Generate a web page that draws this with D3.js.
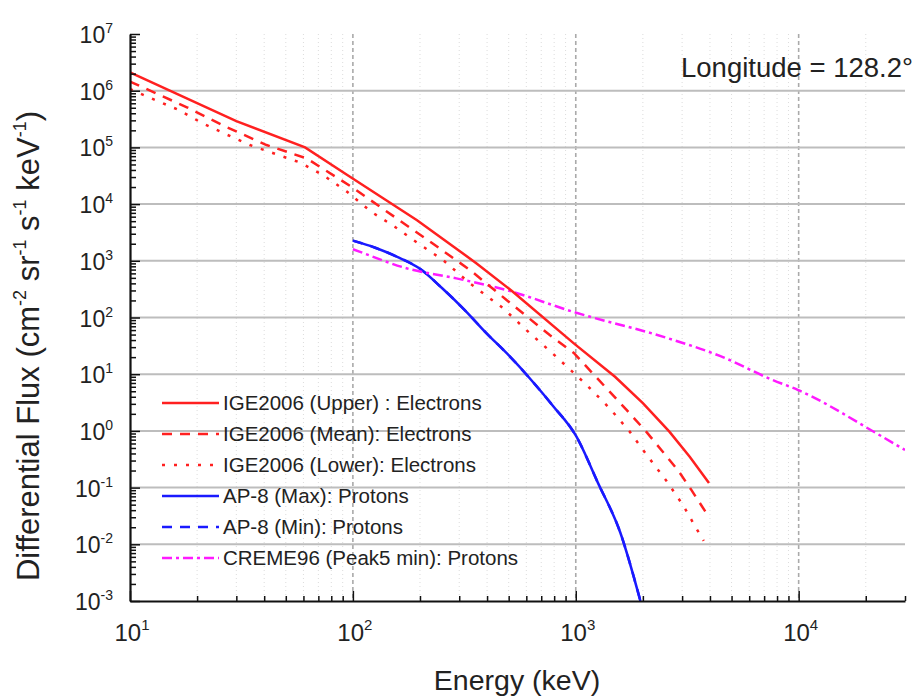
<!DOCTYPE html>
<html><head><meta charset="utf-8">
<script src="https://cdn.jsdelivr.net/npm/d3@7"></script>
<style>
body{margin:0;background:#fff}
text{font-family:Arial,"Liberation Sans",sans-serif;fill:#222}
</style>
</head><body>
<svg id="c" width="919" height="697"></svg>
<script>
// ---- data ----
const upperE = [10, 30, 61, 94, 194, 359, 522, 980, 1500, 2005, 2630, 3245, 3960];
const upperF = [2.1e6, 2.9e5, 1.0e5, 3.3e4, 5.2e3, 900, 285, 35, 9, 3.07, 0.97, 0.35, 0.12];

const meanE = [10, 18, 27, 41, 62, 97, 221, 335, 489, 764, 980, 1690, 2070, 2420, 2880, 3300, 3900];
const meanF = [1.45e6, 5.1e5, 2.3e5, 1.1e5, 6.4e4, 2.1e4, 2.2e3, 690, 204, 49, 23.7, 2.34, 0.97, 0.46, 0.2, 0.091, 0.033];

const lowerE = [10, 12.7, 16.5, 21, 27, 34.5, 44, 58, 74, 94, 121, 154, 196, 254, 335, 471, 600, 790, 980, 1117, 1420, 1746, 2110, 2535, 3030, 3475, 3750];
const lowerF = [1.07e6, 7.1e5, 4.6e5, 2.7e5, 1.7e5, 1.1e5, 7.9e4, 5.4e4, 3.2e4, 1.66e4, 7.3e3, 4.0e3, 2.04e3, 1.03e3, 400, 147, 60, 23, 10.5, 6.5, 2.5, 0.97, 0.35, 0.136, 0.049, 0.019, 0.0115];

const apMaxE = [100, 126, 158, 200, 251, 316, 398, 501, 631, 794, 1000, 1259, 1585, 1950];
const apMaxF = [2265, 1700, 1175, 724, 331, 138, 52.5, 21.4, 7.9, 2.7, 0.83, 0.12, 0.016, 0.001];

// AP-8 (Min) is hidden under AP-8 (Max) in the reference
const apMinE = [100, 126, 158, 200, 251, 316, 398, 501, 631, 794, 1000, 1259, 1585, 1950];
const apMinF = [2265, 1700, 1175, 724, 331, 138, 52.5, 21.4, 7.9, 2.7, 0.83, 0.12, 0.016, 0.001];

const cremeE = [100, 107, 174, 291, 489, 973, 2595, 4430, 7650, 9900, 22300, 30000];
const cremeF = [1600, 1450, 738, 490, 305, 126, 43, 21, 7.9, 5.3, 0.91, 0.46];

const seriesNames = ["IGE2006 (Upper) : Electrons", "IGE2006 (Mean): Electrons", "IGE2006 (Lower): Electrons",
                     "AP-8 (Max): Protons", "AP-8 (Min): Protons", "CREME96 (Peak5 min): Protons"];

const xMajorTicks = [10, 100, 1000, 10000];
const yMajorTicks = [1e-3, 1e-2, 1e-1, 1e0, 1e1, 1e2, 1e3, 1e4, 1e5, 1e6, 1e7];

// ---- chart ----
const svg = d3.select("#c");
const L = 130, R = 905, T = 34, B = 601;
const x = d3.scaleLog().domain([10, 30000]).range([L, R]);
const y = d3.scaleLog().domain([1e-3, 1e7]).range([B, T]);

const xMinor = [];
[10, 100, 1000, 10000].forEach(d => { for (let m = 2; m <= 9; m++) if (d * m <= 30000) xMinor.push(d * m); });
const yMinor = [];
yMajorTicks.slice(0, -1).forEach(d => { for (let m = 2; m <= 9; m++) yMinor.push(d * m); });

// minor vertical grid (faint dotted)
svg.append("g").selectAll("line").data(xMinor.filter(v => v < 30000)).join("line")
  .attr("x1", d => x(d)).attr("x2", d => x(d)).attr("y1", T).attr("y2", B)
  .attr("stroke", "#dcdcdc").attr("stroke-width", 1).attr("stroke-dasharray", "1,3");
// major vertical grid (dashed)
svg.append("g").selectAll("line").data(xMajorTicks.slice(1)).join("line")
  .attr("x1", d => x(d)).attr("x2", d => x(d)).attr("y1", T).attr("y2", B)
  .attr("stroke", "#aaaaaa").attr("stroke-width", 1.6).attr("stroke-dasharray", "4,3");
// horizontal grid
svg.append("g").selectAll("line").data(yMajorTicks.slice(1, -1)).join("line")
  .attr("x1", L).attr("x2", R).attr("y1", d => y(d)).attr("y2", d => y(d))
  .attr("stroke", "#bdbdbd").attr("stroke-width", 2);

// curves
svg.append("clipPath").attr("id", "clip").append("rect")
  .attr("x", L).attr("y", T).attr("width", R - L).attr("height", B - T);
const lineLin = d3.line().x(d => x(d[0])).y(d => y(d[1])).curve(d3.curveLinear);
const lineSmooth = d3.line().x(d => x(d[0])).y(d => y(d[1])).curve(d3.curveMonotoneX);
const zip = (a, b) => a.map((v, i) => [v, b[i]]);
const series = [
  {name: seriesNames[4], data: zip(apMinE, apMinF), color: "#1a1aff", dash: "10,8", smooth: true},
  {name: seriesNames[3], data: zip(apMaxE, apMaxF), color: "#1a1aff", dash: null, smooth: true},
  {name: seriesNames[5], data: zip(cremeE, cremeF), color: "#ff1aff", dash: "10,4,3,4", smooth: true},
  {name: seriesNames[2], data: zip(lowerE, lowerF), color: "#ff2020", dash: "3,9", smooth: false},
  {name: seriesNames[1], data: zip(meanE, meanF), color: "#ff2020", dash: "10,8", smooth: false},
  {name: seriesNames[0], data: zip(upperE, upperF), color: "#ff2020", dash: null, smooth: false}
];
svg.append("g").attr("clip-path", "url(#clip)").selectAll("path").data(series).join("path")
  .attr("d", d => (d.smooth ? lineSmooth : lineLin)(d.data)).attr("fill", "none")
  .attr("stroke", d => d.color).attr("stroke-width", 2.5)
  .attr("stroke-dasharray", d => d.dash);

// axes
function styleAxis(g, keepDomain) {
  g.selectAll(".tick line").attr("stroke", "#111").attr("stroke-width", 1.5);
  g.select(".domain").attr("stroke", keepDomain ? "#111" : "none").attr("stroke-width", 2.2);
  g.selectAll("text").remove();
}
svg.append("g").attr("transform", `translate(0,${B})`)
  .call(d3.axisBottom(x).tickValues(xMinor).tickSizeInner(-5).tickSizeOuter(0).tickFormat(""))
  .call(g => styleAxis(g, false));
svg.append("g").attr("transform", `translate(0,${B})`)
  .call(d3.axisBottom(x).tickValues(xMajorTicks).tickSizeInner(-10).tickSizeOuter(0).tickFormat(""))
  .call(g => styleAxis(g, true));
svg.append("g").attr("transform", `translate(${L},0)`)
  .call(d3.axisLeft(y).tickValues(yMinor).tickSizeInner(-6).tickSizeOuter(0).tickFormat(""))
  .call(g => styleAxis(g, false));
svg.append("g").attr("transform", `translate(${L},0)`)
  .call(d3.axisLeft(y).tickValues(yMajorTicks).tickSizeInner(-10).tickSizeOuter(0).tickFormat(""))
  .call(g => styleAxis(g, true));

// tick labels
const exp = v => Math.round(Math.log10(v));
const xl = svg.append("g").selectAll("text").data(xMajorTicks).join("text")
  .attr("x", d => x(d) + 2).attr("y", 641).attr("text-anchor", "middle").attr("font-size", 24);
xl.append("tspan").text("10");
xl.append("tspan").attr("dy", -11).attr("font-size", 15).text(d => exp(d));

const yl = svg.append("g").selectAll("text").data(yMajorTicks).join("text")
  .attr("x", 113).attr("y", d => y(d) + 9).attr("text-anchor", "end").attr("font-size", 23);
yl.append("tspan").text("10");
yl.append("tspan").attr("dy", -10).attr("font-size", 14).text(d => exp(d));

// axis titles
svg.append("text").attr("x", 517).attr("y", 690).attr("text-anchor", "middle")
  .attr("font-size", 28.5).text("Energy (keV)");
const yt = svg.append("text").attr("transform", "translate(39,346) rotate(-90)")
  .attr("text-anchor", "middle").attr("font-size", 31);
const parts = [["Differential Flux (cm", 0], ["-2", 1], [" sr", 0], ["-1", 1], [" s", 0], ["-1", 1], [" keV", 0], ["-1", 1], [")", 0]];
let up = false;
parts.forEach(([t, s]) => {
  const ts = yt.append("tspan").text(t);
  if (s) { ts.attr("font-size", 18).attr("dy", up ? 0 : -13); up = true; }
  else { ts.attr("dy", up ? 13 : 0); up = false; }
});

svg.append("text").attr("x", 913).attr("y", 77).attr("text-anchor", "end")
  .attr("font-size", 27.5).text("Longitude = 128.2°");

// legend
const legendOrder = [5, 4, 3, 1, 0, 2];
const lg = svg.append("g").selectAll("g").data(legendOrder.map(i => series[i])).join("g")
  .attr("transform", (d, i) => `translate(0,${403 + i * 31})`);
lg.append("line").attr("x1", 162).attr("x2", 219).attr("y1", 0).attr("y2", 0)
  .attr("stroke", d => d.color).attr("stroke-width", 2.5).attr("stroke-dasharray", d => d.dash);
lg.append("text").attr("x", 223).attr("y", 7).attr("font-size", 20.5).text(d => d.name);
</script>
</body></html>
